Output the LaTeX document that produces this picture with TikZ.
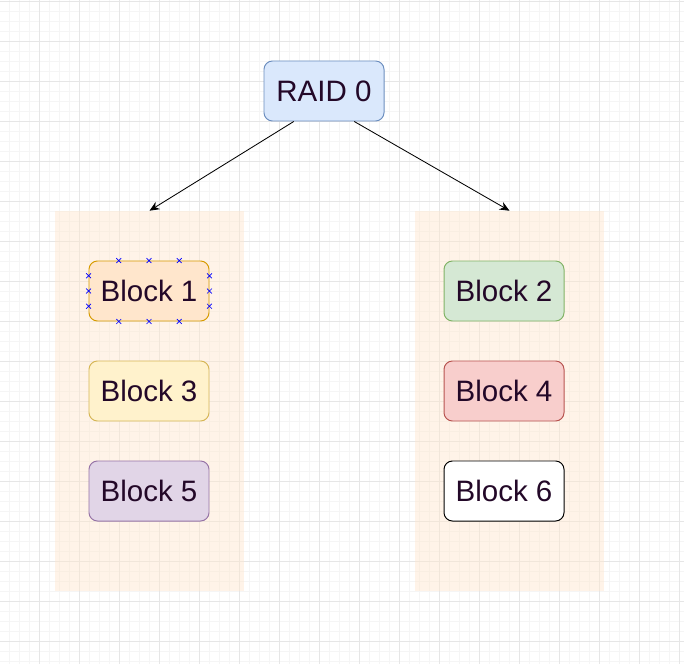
\documentclass[tikz,border=0pt]{standalone}
\usepackage{fontspec}
\setmainfont{Liberation Sans}
\usetikzlibrary{arrows.meta,positioning,calc}

\definecolor{gridminor}{HTML}{F5F5F5}
\definecolor{gridmajor}{HTML}{E6E6E6}
\definecolor{txtcol}{RGB}{35,8,40}
\definecolor{stripefill}{HTML}{FFE6CC}

\begin{document}
\begin{tikzpicture}[
    blk/.style={draw, rounded corners=6pt, minimum width=3cm, minimum height=1.5cm, line width=0.7pt, font=\fontsize{21}{25}\selectfont, text=txtcol},
    stripe/.style={fill=stripefill, fill opacity=0.45, minimum width=4.725cm, minimum height=9.5cm, inner sep=0pt},
    arr/.style={-{Stealth[length=7pt, width=6pt]}, line width=0.6pt},
    handle/.style={blue, line width=0.5pt}
]
\useasboundingbox (0,0) rectangle (17.1,-16.575);
\clip (0,0) rectangle (17.1,-16.575);

% background grid
\fill[white] (0,0) rectangle (17.1,-16.575);
\draw[gridminor, line width=0.5pt, shift={(-0.025,-0.025)}] (-1,-18) grid[step=0.25] (19,1);
\draw[gridmajor, line width=0.5pt, shift={(-0.025,-0.025)}] (-1,-18) grid[step=1] (19,1);

% the two disks
\node[stripe] (d1) at (3.7375,-10.025) {};
\node[stripe] (d2) at (12.7375,-10.025) {};

\node[blk, fill={rgb,255:red,218;green,232;blue,252}, draw={rgb,255:red,108;green,142;blue,191}] (raid) at (8.1,-2.275) {RAID 0};

\node[blk, fill={rgb,255:red,255;green,230;blue,204}, draw={rgb,255:red,215;green,155;blue,0}] (b1) at (3.725,-7.275) {Block 1};
\node[blk, fill={rgb,255:red,255;green,242;blue,204}, draw={rgb,255:red,214;green,182;blue,86}] (b3) at (3.725,-9.775) {Block 3};
\node[blk, fill={rgb,255:red,225;green,213;blue,231}, draw={rgb,255:red,150;green,115;blue,166}] (b5) at (3.725,-12.275) {Block 5};

\node[blk, fill={rgb,255:red,213;green,232;blue,212}, draw={rgb,255:red,130;green,179;blue,102}] (b2) at (12.6,-7.275) {Block 2};
\node[blk, fill={rgb,255:red,248;green,206;blue,204}, draw={rgb,255:red,184;green,84;blue,80}] (b4) at (12.6,-9.775) {Block 4};
\node[blk, fill=white, draw=black] (b6) at (12.6,-12.275) {Block 6};

% selection handles on block 1
\foreach \p in {0.25,0.5,0.75} {
  \draw[handle] ($(b1.north west)!\p!(b1.north east)$) +(-0.06,-0.06) -- +(0.06,0.06) +(-0.06,0.06) -- +(0.06,-0.06);
  \draw[handle] ($(b1.south west)!\p!(b1.south east)$) +(-0.06,-0.06) -- +(0.06,0.06) +(-0.06,0.06) -- +(0.06,-0.06);
  \draw[handle] ($(b1.north west)!\p!(b1.south west)$) +(-0.06,-0.06) -- +(0.06,0.06) +(-0.06,0.06) -- +(0.06,-0.06);
  \draw[handle] ($(b1.north east)!\p!(b1.south east)$) +(-0.06,-0.06) -- +(0.06,0.06) +(-0.06,0.06) -- +(0.06,-0.06);
}

\coordinate (s1) at ($(raid.south)!0.5!(raid.south west)$);
\coordinate (s2) at ($(raid.south)!0.5!(raid.south east)$);
\draw[arr] (s1) -- (d1.north);
\draw[arr] (s2) -- (d2.north);
\end{tikzpicture}
\end{document}
